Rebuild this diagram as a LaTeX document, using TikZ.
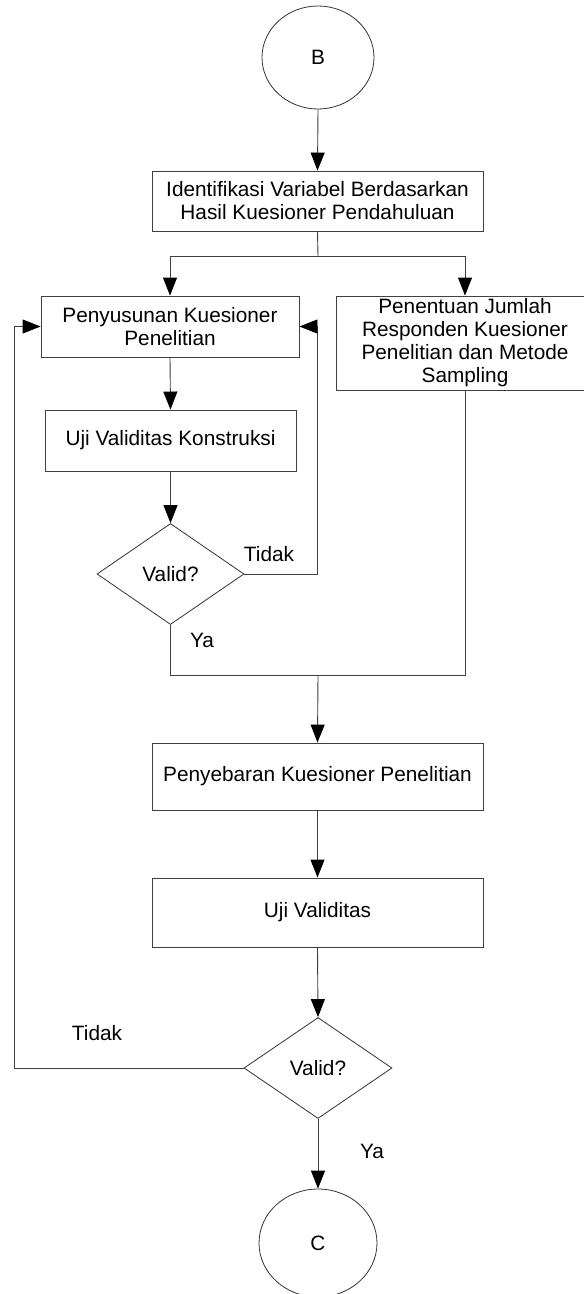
\documentclass[tikz,border=0pt]{standalone}
\usepackage{fontspec}
\setmainfont{Liberation Sans}
\usetikzlibrary{shapes.geometric,arrows.meta}
\begin{document}
\begin{tikzpicture}[x=1pt,y=-1pt,
  every node/.style={font=\fontsize{20.8}{23}\selectfont, text=black},
  boxnode/.style={draw=black!75, line width=0.9pt, rectangle, inner sep=2pt, align=center},
  termnode/.style={draw=black!80, line width=0.8pt, ellipse, inner sep=0pt},
  decnode/.style={draw=black!80, line width=0.8pt, diamond, inner sep=0pt},
  conn/.style={draw=black!75, line width=0.9pt},
  arr/.style={conn, -{Triangle[length=18pt,width=14pt,color=black]}},
  lbl/.style={inner sep=0pt}
]
\useasboundingbox[fill=white] (0,0) rectangle (584,1294);

\node[termnode, minimum width=112pt, minimum height=103pt] (B) at (318,57.5) {B};
\node[boxnode, minimum width=331pt, minimum height=60pt] (box1) at (317.5,201)
  {Identifikasi Variabel Berdasarkan\\Hasil Kuesioner Pendahuluan};
\node[boxnode, minimum width=258pt, minimum height=61pt] (box2) at (170,326.5)
  {Penyusunan Kuesioner\\Penelitian};
\node[boxnode, minimum width=258pt, minimum height=94pt] (rbox) at (465,343)
  {Penentuan Jumlah\\Responden Kuesioner\\Penelitian dan Metode\\Sampling};
\node[boxnode, minimum width=251pt, minimum height=61pt] (box3) at (170.5,440.5)
  {Uji Validitas Konstruksi};
\node[decnode, minimum width=147pt, minimum height=101pt] (d1) at (170.5,574) {Valid?};
\node[boxnode, minimum width=331pt, minimum height=67pt] (box4) at (317.5,776.5)
  {Penyebaran Kuesioner Penelitian};
\node[boxnode, minimum width=331pt, minimum height=69pt] (box5) at (317.5,912.5)
  {Uji Validitas};
\node[decnode, minimum width=148pt, minimum height=101pt] (d2) at (318,1068) {Valid?};
\node[termnode, minimum width=118pt, minimum height=108pt] (C) at (318,1243) {C};

\node[lbl] (t1) at (269,554) {Tidak};
\node[lbl] (y1) at (202,640) {Ya};
\node[lbl] (t2) at (97,1033) {Tidak};
\node[lbl] (y2) at (372,1151) {Ya};

\coordinate (split) at (318,256);
\coordinate (r1) at (317,574);
\coordinate (m1) at (170.5,675);
\coordinate (m2) at (465,675);
\coordinate (merge) at (318,675);
\coordinate (l1) at (14,1068);

\draw[arr] (B.south) -- (box1.north);
\draw[conn] (box1.south) -- (split);
\draw[arr] (split) -| (box2.north);
\draw[arr] (split) -| (rbox.north);
\draw[arr] (box2.south) -- (box3.north);
\draw[arr] (box3.south) -- (d1.north);
\draw[arr] (d1.east) -- (r1) |- (box2.east);
\draw[conn] (d1.south) -- (m1) -- (m2) -- (rbox.south);
\draw[arr] (merge) -- (box4.north);
\draw[arr] (box4.south) -- (box5.north);
\draw[arr] (box5.south) -- (d2.north);
\draw[arr] (d2.west) -- (l1) |- (box2.west);
\draw[arr] (d2.south) -- (C.north);
\end{tikzpicture}
\end{document}
